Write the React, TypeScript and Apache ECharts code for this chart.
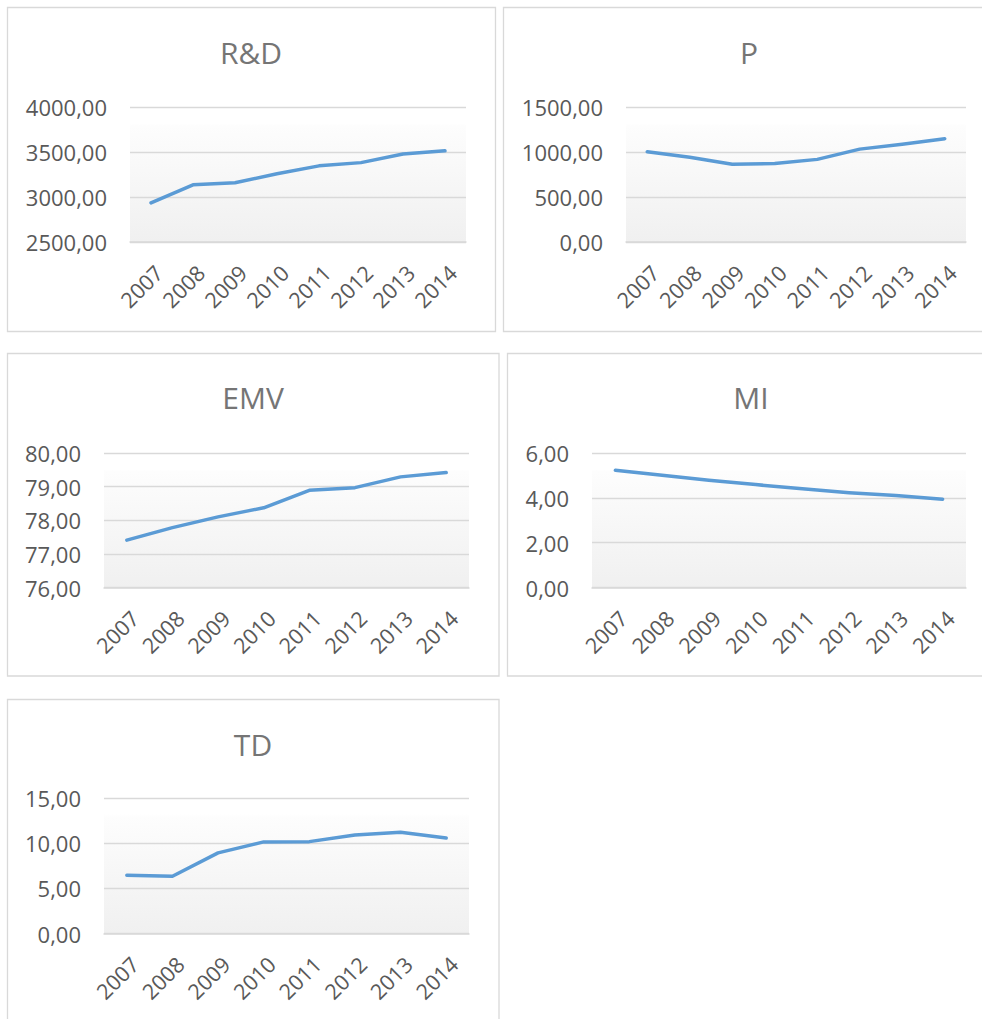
import { useEffect, useRef } from 'react';
import * as echarts from 'echarts';

const years = ['2007', '2008', '2009', '2010', '2011', '2012', '2013', '2014'];
const rdValues = [2935, 3135, 3158, 3258, 3346, 3382, 3478, 3513];
const pValues = [1003, 941, 863, 872, 918, 1032, 1085, 1148];
const emvValues = [77.41, 77.78, 78.1, 78.37, 78.89, 78.97, 79.29, 79.42];
const miValues = [5.23, 5.01, 4.78, 4.59, 4.4, 4.23, 4.1, 3.94];
const tdValues = [6.45, 6.34, 8.92, 10.14, 10.17, 10.91, 11.2, 10.58];

const panelTitles = ['R&D', 'P', 'EMV', 'MI', 'TD'];
const panelSeries = [rdValues, pValues, emvValues, miValues, tdValues];
// [min, max, interval]
const yRanges = [
  [2500, 4000, 500],
  [0, 1500, 500],
  [76, 80, 1],
  [0, 6, 2],
  [0, 15, 5],
];

const grids = [
  { left: 130, top: 107, width: 336, height: 135 },
  { left: 626, top: 107, width: 340, height: 135 },
  { left: 104, top: 453, width: 365, height: 134.5 },
  { left: 592, top: 453, width: 374, height: 134.5 },
  { left: 104, top: 798, width: 365, height: 135.5 },
];
const frames = [
  { x: 7.5, y: 7.5, w: 488, h: 324 },
  { x: 503.5, y: 7.5, w: 490, h: 324 },
  { x: 7.5, y: 353.5, w: 491.5, h: 322.5 },
  { x: 507.5, y: 353.5, w: 490, h: 322.5 },
  { x: 7.5, y: 699.5, w: 491.5, h: 400 },
];
const titlePos = [
  [251, 52.5],
  [749, 52.5],
  [253, 397.5],
  [751, 397.5],
  [253, 744],
];

const FONT = '"Open Sans", "Liberation Sans", sans-serif';

export default function App() {
  const ref = useRef<HTMLDivElement>(null);
  useEffect(() => {
    if (!ref.current) return;
    const chart = echarts.init(ref.current, null, { renderer: 'svg' });
    const bg = () =>
      new echarts.graphic.LinearGradient(0, 0, 0, 1, [
        { offset: 0, color: '#ffffff' },
        { offset: 0.12, color: '#ffffff' },
        { offset: 0.14, color: '#fdfdfd' },
        { offset: 1, color: '#f0f0f0' },
      ]);
    const option: any = {
      animation: false,
      backgroundColor: '#ffffff',
      textStyle: { fontFamily: FONT },
      grid: grids.map((g) => ({
        ...g,
        show: true,
        borderWidth: 0,
        backgroundColor: bg(),
        containLabel: false,
      })),
      xAxis: grids.map((_, i) => ({
        type: 'category',
        gridIndex: i,
        data: years,
        boundaryGap: true,
        axisLine: { show: true, lineStyle: { color: '#d9d9d9', width: 1.5 } },
        axisTick: { show: false },
        splitLine: { show: false },
        axisLabel: {
          interval: 0,
          rotate: 45,
          margin: 19,
          align: 'right',
          verticalAlign: 'top',
          color: '#595959',
          fontSize: 21.5,
          fontFamily: FONT,
        },
      })),
      yAxis: grids.map((_, i) => ({
        type: 'value',
        gridIndex: i,
        min: yRanges[i][0],
        max: yRanges[i][1],
        interval: yRanges[i][2],
        axisLine: { show: false },
        axisTick: { show: false },
        splitLine: { show: true, lineStyle: { color: '#d9d9d9', width: 1.3 } },
        axisLabel: {
          margin: 23,
          color: '#595959',
          fontSize: 22,
          fontFamily: FONT,
          formatter: (v: number) => v.toFixed(2).replace('.', ','),
        },
      })),
      series: panelSeries.map((data, i) => ({
        type: 'line',
        name: panelTitles[i],
        xAxisIndex: i,
        yAxisIndex: i,
        data,
        showSymbol: false,
        symbol: 'none',
        lineStyle: { color: '#5b9bd5', width: 3.5, cap: 'round', join: 'round' },
        itemStyle: { color: '#5b9bd5' },
      })),
      graphic: [
        ...frames.map((f) => ({
          type: 'rect',
          silent: true,
          z: -10,
          shape: { x: f.x, y: f.y, width: f.w, height: f.h },
          style: { fill: 'none', stroke: '#d9d9d9', lineWidth: 1.3 },
        })),
        ...panelTitles.map((t, i) => ({
          type: 'text',
          silent: true,
          x: titlePos[i][0],
          y: titlePos[i][1],
          style: {
            text: t,
            fill: '#757575',
            fontSize: 30,
            fontFamily: FONT,
            align: 'center',
            verticalAlign: 'middle',
          },
        })),
      ],
    };
    chart.setOption(option);
    return () => chart.dispose();
  }, []);
  return (
    <div
      ref={ref}
      style={{ position: 'absolute', left: 0, top: 0, width: 982, height: 1019, background: '#fff' }}
    />
  );
}
